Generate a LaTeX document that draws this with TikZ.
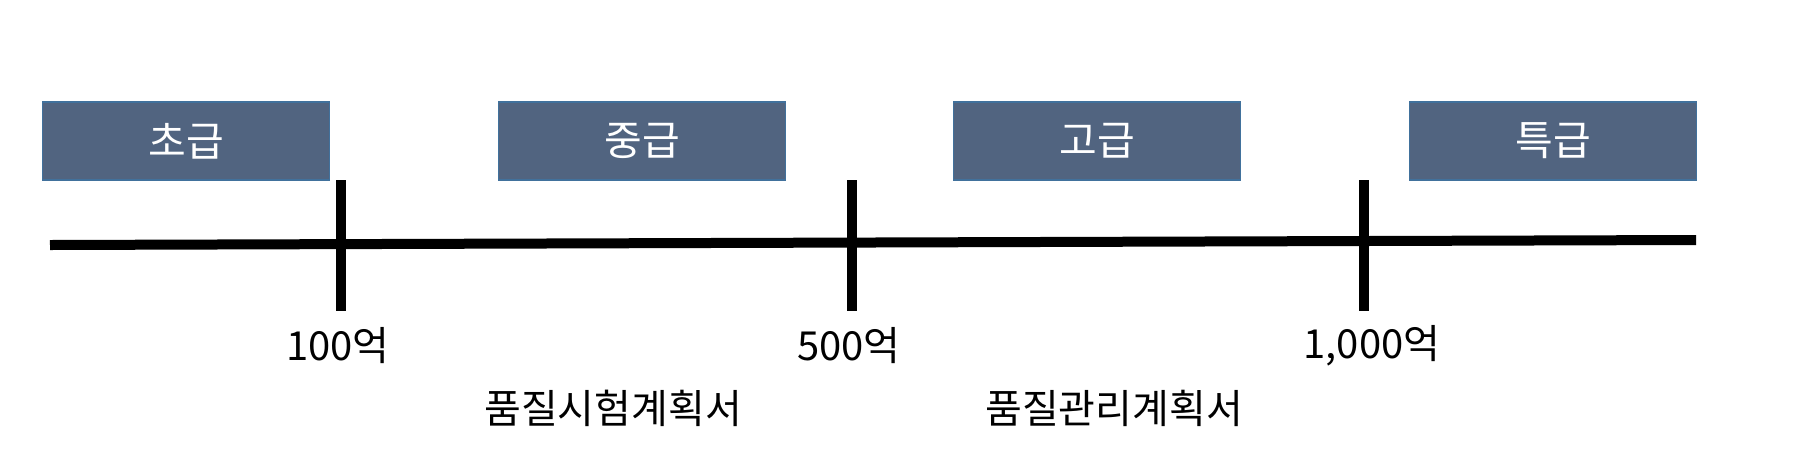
\documentclass[tikz,border=0pt]{standalone}
\usepackage{fontspec}
\setmainfont{Noto Sans CJK KR}
\usetikzlibrary{positioning}
\definecolor{gradefill}{HTML}{516480}
\definecolor{gradeedge}{HTML}{41719C}

\begin{document}
\begin{tikzpicture}[x=1pt,y=-1pt,
	grade/.style={rectangle, draw=gradeedge, line width=1.5pt, fill=gradefill,
	text=white, minimum width=287pt, minimum height=78pt, inner sep=0pt,
	font=\fontsize{41}{44}\selectfont},
	amount/.style={inner sep=0pt, font=\fontsize{40}{44}\selectfont},
	axis/.style={line width=10pt}]

\useasboundingbox (0,0) rectangle (1793,467);

\node[grade] at (186,141) (low) {초급};
\node[grade] at (642,141) (mid) {중급};
\node[grade] at (1097,141) (high) {고급};
\node[grade] at (1553,141) (top) {특급};

\coordinate (axL) at (50,245);
\coordinate (axR) at (1696,240);
\draw[axis] (axL) -- (axR);

\coordinate (t1a) at (341,180);
\coordinate (t1b) at (341,311);
\coordinate (t2a) at (852,180);
\coordinate (t2b) at (852,311);
\coordinate (t3a) at (1364,180);
\coordinate (t3b) at (1364,311);
\draw[axis] (t1a) -- (t1b);
\draw[axis] (t2a) -- (t2b);
\draw[axis] (t3a) -- (t3b);

\node[amount] at (338,346) (m1) {100억};
\node[amount] at (849,346) (m2) {500억};
\node[amount] at (1372,346) (m3) {1,000억};

\node[amount] at (613,408) (p1) {품질시험계획서};
\node[amount] at (1114,408) (p2) {품질관리계획서};
\end{tikzpicture}
\end{document}
